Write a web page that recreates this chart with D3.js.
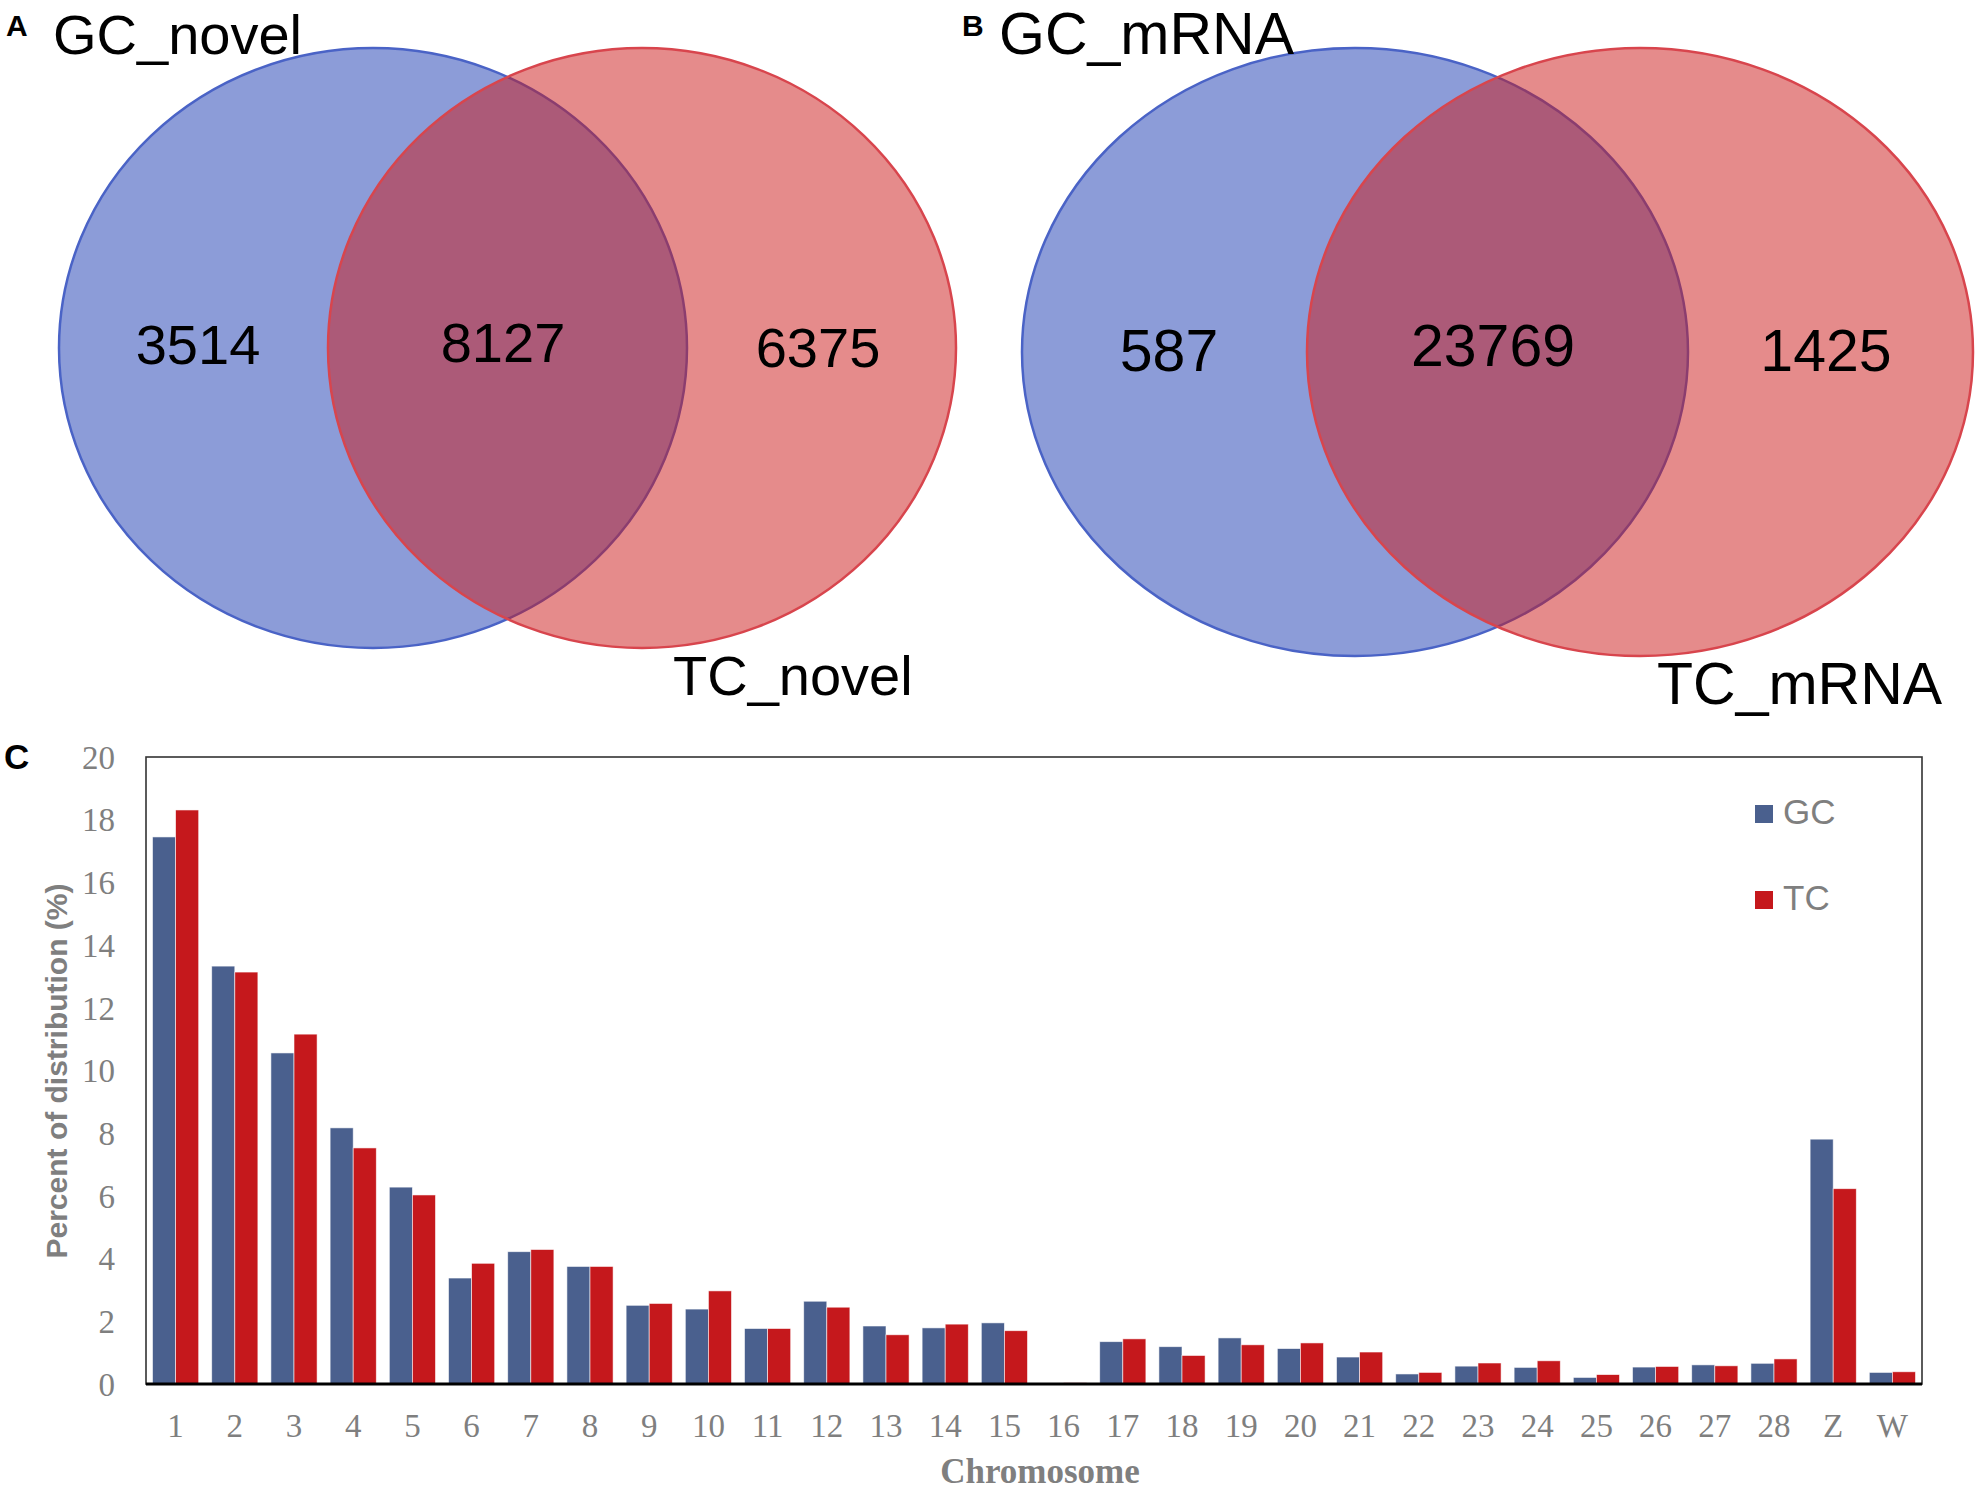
<!DOCTYPE html>
<html>
<head>
<meta charset="utf-8">
<script src="https://cdn.jsdelivr.net/npm/d3@7"></script>
<style>
  html, body { margin: 0; padding: 0; background: #fff; }
  svg { display: block; }
</style>
</head>
<body>
<svg id="chart" width="1978" height="1492"></svg>
<script>
// ---------------- DATA ----------------
const vennSetsA = ["GC_novel", "TC_novel"];
const vennCountsA = [3514, 8127, 6375];   // GC only, shared, TC only
const vennSetsB = ["GC_mRNA", "TC_mRNA"];
const vennCountsB = [587, 23769, 1425];

const chromosomes = ["1","2","3","4","5","6","7","8","9","10","11","12","13","14","15","16","17","18","19","20","21","22","23","24","25","26","27","28","Z","W"];
const seriesNames = ["GC", "TC"];
const gcValues = [17.45, 13.33, 10.56, 8.17, 6.28, 3.38, 4.22, 3.75, 2.51, 2.39, 1.77, 2.64, 1.85, 1.79, 1.95, 0.03, 1.35, 1.19, 1.47, 1.13, 0.86, 0.32, 0.57, 0.53, 0.21, 0.54, 0.61, 0.66, 7.81, 0.37];
const tcValues = [18.31, 13.14, 11.16, 7.53, 6.03, 3.85, 4.29, 3.75, 2.57, 2.97, 1.77, 2.45, 1.57, 1.91, 1.70, 0.04, 1.44, 0.91, 1.25, 1.31, 1.02, 0.37, 0.67, 0.74, 0.30, 0.56, 0.58, 0.80, 6.23, 0.39];
const yTicks = [0, 2, 4, 6, 8, 10, 12, 14, 16, 18, 20];

// ---------------- STYLE ----------------
const SANS = "'Liberation Sans', Arial, Helvetica, sans-serif";
const SERIF = "'Liberation Serif', 'Times New Roman', serif";
const GRAY = "#7f7f7f";
const barColors = { GC: "#4a608e", TC: "#c5181c" };

const svg = d3.select("#chart");
svg.append("rect").attr("width", 1978).attr("height", 1492).attr("fill", "#fff");

function panelLetter(x, yBase, size, letter) {
  svg.append("text").attr("x", x).attr("y", yBase)
    .attr("font-family", SANS).attr("font-weight", "bold").attr("font-size", size)
    .attr("fill", "#000")
    .text(letter);
}

// ---------------- VENN ----------------
function drawVenn(g, sets, counts, geo) {
  const ell = [
    { cx: geo.bx, cy: geo.cy, rx: geo.rx, ry: geo.ry, fill: "rgb(25,57,177)", stroke: "#4a63c6" },
    { cx: geo.rxc, cy: geo.cy, rx: geo.rx, ry: geo.ry, fill: "rgb(203,23,23)", stroke: "#d8454d" }
  ];
  g.selectAll("ellipse").data(ell).join("ellipse")
    .attr("cx", d => d.cx).attr("cy", d => d.cy)
    .attr("rx", d => d.rx).attr("ry", d => d.ry)
    .attr("fill", d => d.fill).attr("fill-opacity", 0.5)
    .attr("stroke", d => d.stroke).attr("stroke-width", 2.5);

  g.selectAll("text.count").data(counts).join("text")
    .attr("class", "count")
    .attr("x", (d, i) => geo.numX[i]).attr("y", (d, i) => geo.numY[i])
    .attr("text-anchor", "middle")
    .attr("font-family", SANS).attr("font-size", geo.numSize)
    .attr("fill", "#000")
    .text(d => d);

  g.append("text").attr("x", geo.t1x).attr("y", geo.t1y)
    .attr("font-family", SANS).attr("font-size", geo.titleSize).attr("fill", "#000")
    .text(sets[0]);
  g.append("text").attr("x", geo.t2x).attr("y", geo.t2y)
    .attr("font-family", SANS).attr("font-size", geo.titleSize).attr("fill", "#000")
    .text(sets[1]);
}

drawVenn(svg.append("g"), vennSetsA, vennCountsA, {
  bx: 373, rxc: 642, cy: 348, rx: 314, ry: 300,
  numX: [198, 503, 818], numY: [364, 362, 367], numSize: 56,
  t1x: 53, t1y: 54, t2x: 673, t2y: 695, titleSize: 56
});
drawVenn(svg.append("g"), vennSetsB, vennCountsB, {
  bx: 1355, rxc: 1640, cy: 352, rx: 333, ry: 304,
  numX: [1169, 1493, 1826], numY: [371, 366, 371], numSize: 59,
  t1x: 999, t1y: 54, t2x: 1657, t2y: 704, titleSize: 59
});
panelLetter(6, 36, 30, "A");
panelLetter(962, 36, 30, "B");

// ---------------- BAR CHART ----------------
const plot = { left: 146, right: 1922, top: 757, bottom: 1384 };

const x0 = d3.scaleBand().domain(chromosomes)
  .range([plot.left, plot.right]).paddingInner(0.22).paddingOuter(0.11);
const x1 = d3.scaleBand().domain(seriesNames).range([0, x0.bandwidth()]).padding(0);
const y = d3.scaleLinear().domain([0, 20]).range([plot.bottom, plot.top]);

const rows = chromosomes.map((c, i) => ({ chrom: c, GC: gcValues[i], TC: tcValues[i] }));

panelLetter(4, 769, 35, "C");

// frame
svg.append("rect")
  .attr("x", plot.left).attr("y", plot.top)
  .attr("width", plot.right - plot.left).attr("height", plot.bottom - plot.top)
  .attr("fill", "none").attr("stroke", "#333").attr("stroke-width", 1.6);

// bars
const groups = svg.append("g").selectAll("g").data(rows).join("g")
  .attr("transform", d => `translate(${x0(d.chrom)},0)`);
groups.selectAll("rect").data(d => seriesNames.map(k => ({ key: k, value: d[k] }))).join("rect")
  .attr("x", d => x1(d.key))
  .attr("y", d => y(d.value))
  .attr("width", x1.bandwidth())
  .attr("height", d => y(0) - y(d.value))
  .attr("fill", d => barColors[d.key])
  .attr("stroke", "#ffffff").attr("stroke-width", 0.8).attr("stroke-opacity", 0.7);

// bottom axis line
svg.append("line").attr("x1", plot.left).attr("x2", plot.right)
  .attr("y1", plot.bottom).attr("y2", plot.bottom)
  .attr("stroke", "#000").attr("stroke-width", 3);

// y axis
const yAxis = svg.append("g").attr("transform", `translate(${plot.left},0)`)
  .call(d3.axisLeft(y).tickValues(yTicks).tickSize(0).tickPadding(31));
yAxis.select(".domain").remove();
yAxis.selectAll("text")
  .attr("font-family", SERIF).attr("font-size", 33).attr("fill", GRAY)
  .attr("dy", "0.34em");

// x axis
const xAxis = svg.append("g").attr("transform", `translate(0,${plot.bottom})`)
  .call(d3.axisBottom(x0).tickSize(0).tickPadding(0));
xAxis.select(".domain").remove();
xAxis.selectAll("text")
  .attr("font-family", SERIF).attr("font-size", 33).attr("fill", GRAY)
  .attr("dy", 0).attr("y", 53);

// axis titles
svg.append("text")
  .attr("transform", "translate(67,1071) rotate(-90)")
  .attr("text-anchor", "middle")
  .attr("font-family", SANS).attr("font-weight", "bold").attr("font-size", 30)
  .attr("fill", GRAY)
  .text("Percent of distribution (%)");

svg.append("text")
  .attr("x", 1040).attr("y", 1483)
  .attr("text-anchor", "middle")
  .attr("font-family", SERIF).attr("font-weight", "bold").attr("font-size", 35)
  .attr("fill", GRAY)
  .text("Chromosome");

// legend
const legend = svg.append("g").selectAll("g").data(seriesNames).join("g")
  .attr("transform", (d, i) => `translate(1755,${805 + i * 86})`);
legend.append("rect").attr("width", 18).attr("height", 18).attr("fill", d => barColors[d]);
legend.append("text").attr("x", 28).attr("y", 19)
  .attr("font-family", SANS).attr("font-size", 35).attr("fill", GRAY)
  .text(d => d);
</script>
</body>
</html>
